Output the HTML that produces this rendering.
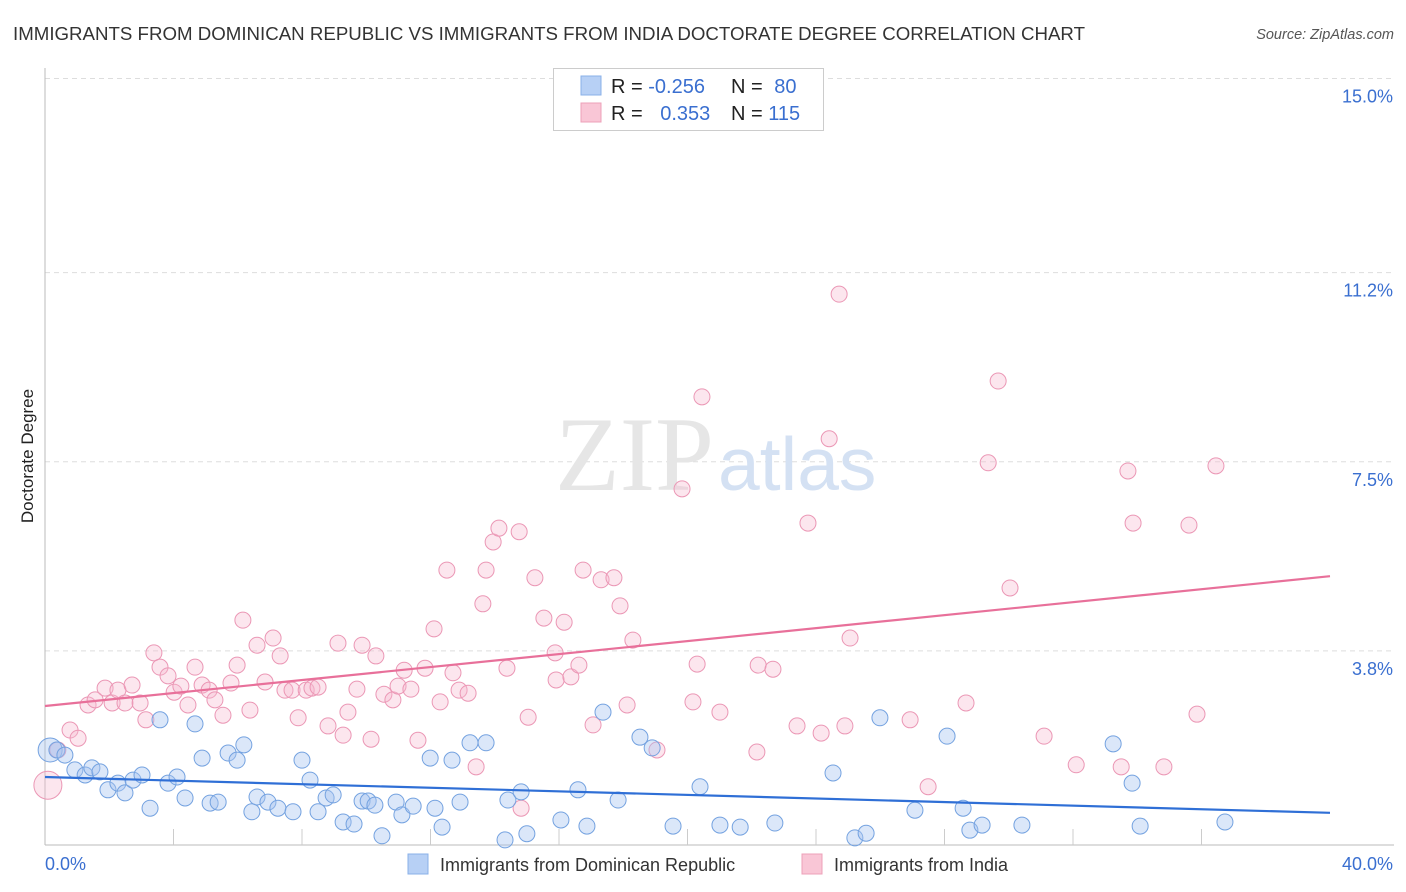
<!DOCTYPE html>
<html><head><meta charset="utf-8">
<style>
body{margin:0;background:#fff;font-family:"Liberation Sans",sans-serif;}
#wrap{position:relative;width:1406px;height:892px;overflow:hidden;}
</style></head>
<body>
<div id="wrap">
<svg id="svg" width="1406" height="892" xmlns="http://www.w3.org/2000/svg">
<text x="13" y="40" font-size="18.6" fill="#333" textLength="1072" lengthAdjust="spacingAndGlyphs">IMMIGRANTS FROM DOMINICAN REPUBLIC VS IMMIGRANTS FROM INDIA DOCTORATE DEGREE CORRELATION CHART</text>
<text x="1394" y="39" font-size="14.5" fill="#555" font-style="italic" text-anchor="end">Source: ZipAtlas.com</text>
<text x="0" y="0" transform="translate(33,456) rotate(-90)" font-size="17" fill="#222" text-anchor="middle">Doctorate Degree</text>
<g id="grid"></g>
<text x="555" y="490" font-family="Liberation Serif,serif" font-size="106" fill="#e6e6e6">ZIP</text>
<text x="718" y="490" font-size="75" fill="#d4e1f3">atlas</text>
<g id="pts"></g>
<g id="lines"></g>
<g>
<rect x="553.5" y="68.5" width="270" height="62" fill="#fff" stroke="#ccc"/>
<rect x="581" y="76" width="20" height="19" fill="#b7d0f5" stroke="#8ab0e8"/>
<rect x="581" y="103" width="20" height="19" fill="#f9c6d6" stroke="#eda0b8"/>
<text x="611" y="93" font-size="20" fill="#222">R = <tspan fill="#3a6fd0">-0.256</tspan></text>
<text x="731" y="93" font-size="20" fill="#222">N = <tspan fill="#3a6fd0" dx="6">80</tspan></text>
<text x="611" y="120" font-size="20" fill="#222">R = <tspan fill="#3a6fd0" dx="12">0.353</tspan></text>
<text x="731" y="120" font-size="20" fill="#222">N = <tspan fill="#3a6fd0">115</tspan></text>
</g>
<g>
<rect x="408" y="854" width="20" height="20" fill="#b7d0f5" stroke="#8ab0e8"/>
<text x="440" y="871" font-size="18" fill="#333">Immigrants from Dominican Republic</text>
<rect x="802" y="854" width="20" height="20" fill="#f9c6d6" stroke="#eda0b8"/>
<text x="834" y="871" font-size="18" fill="#333">Immigrants from India</text>
</g>
</svg>
</div>
<script>
const yTicks=[3.8,7.5,11.2,15.0];
const yTickLabels=["3.8%","7.5%","11.2%","15.0%"];
const xTickLabels=["0.0%","40.0%"];
const blueX=[0.16,0.37,0.62,0.93,1.25,1.46,1.71,1.96,2.27,2.49,2.74,3.02,3.27,3.58,3.83,4.11,4.36,4.67,4.89,5.14,5.39,5.70,5.98,6.19,6.44,6.60,6.94,7.25,7.72,8.00,8.25,8.50,8.75,8.97,9.28,9.62,9.87,10.06,10.27,10.49,10.93,11.11,11.46,11.99,12.14,12.36,12.67,12.92,13.23,13.73,14.32,14.41,14.82,15.00,16.06,16.59,16.87,17.37,17.84,18.52,18.90,19.55,20.39,21.01,21.64,22.72,24.53,25.21,25.56,25.99,27.08,28.08,28.58,28.79,29.17,30.41,33.25,33.84,34.09,36.73];
const blueY=[1.86,1.86,1.76,1.47,1.37,1.51,1.43,1.08,1.21,1.02,1.27,1.37,0.72,2.45,1.21,1.33,0.92,2.37,1.70,0.82,0.84,1.80,1.66,1.96,0.65,0.94,0.84,0.72,0.65,1.66,1.27,0.65,0.92,0.98,0.45,0.41,0.86,0.86,0.78,0.18,0.84,0.59,0.76,1.70,0.72,0.35,1.66,0.84,2.00,2.00,0.10,0.88,1.04,0.22,0.49,1.08,0.37,2.60,0.88,2.11,1.90,0.37,1.14,0.39,0.35,0.43,1.41,0.14,0.23,2.49,0.68,2.13,0.72,0.29,0.39,0.39,1.98,1.21,0.37,0.45];
const pinkX=[0.09,0.40,0.78,1.03,1.34,1.56,1.87,2.09,2.27,2.49,2.71,2.96,3.14,3.39,3.58,3.83,4.02,4.23,4.45,4.67,4.89,5.11,5.29,5.54,5.79,5.98,6.16,6.38,6.60,6.85,7.10,7.32,7.47,7.69,7.88,8.13,8.31,8.50,8.81,9.12,9.28,9.43,9.71,9.87,10.15,10.30,10.55,10.83,10.99,11.18,11.39,11.61,11.83,12.11,12.30,12.51,12.70,12.89,13.17,13.42,13.63,13.73,13.95,14.13,14.38,14.76,14.82,15.04,15.25,15.53,15.88,15.91,16.16,16.37,16.62,16.75,17.06,17.31,17.71,17.90,18.12,18.30,19.05,19.83,20.17,20.30,20.45,21.01,22.16,22.20,22.66,23.41,23.75,24.16,24.41,24.72,24.90,25.06,26.93,27.49,28.67,29.36,29.67,30.04,31.10,32.10,33.50,33.71,33.87,34.83,35.61,35.86,36.45];
const pinkY=[1.17,1.86,2.25,2.09,2.74,2.84,3.07,2.78,3.03,2.78,3.13,2.78,2.45,3.76,3.48,3.31,2.99,3.11,2.74,3.48,3.13,3.03,2.84,2.54,3.17,3.52,4.40,2.64,3.91,3.19,4.05,3.70,3.03,3.03,2.49,3.03,3.07,3.09,2.33,3.95,2.15,2.60,3.05,3.91,2.07,3.70,2.95,2.84,3.11,3.42,3.05,2.05,3.46,4.23,2.80,5.38,3.37,3.03,2.97,1.53,4.72,5.38,5.93,6.20,3.46,6.13,0.72,2.50,5.23,4.44,3.76,3.23,4.36,3.29,3.52,5.38,2.35,5.19,5.23,4.68,2.74,4.01,1.86,6.97,2.80,3.54,8.77,2.60,1.82,3.52,3.44,2.33,6.30,2.19,7.95,10.78,2.33,4.05,2.45,1.14,2.78,7.48,9.08,5.03,2.13,1.57,1.53,7.32,6.30,1.53,6.26,2.56,7.42];
const blueTrend=[1.33,0.63];
const pinkTrend=[2.72,5.26];
const NS="http://www.w3.org/2000/svg";
const X0=45,X1=1330,Y0=845,PX_PER=51.1;
function sx(v){return X0+(X1-X0)*v/40;}
function sy(v){return Y0-v*PX_PER;}
function mk(tag,attrs,parent){const e=document.createElementNS(NS,tag);for(const k in attrs)e.setAttribute(k,attrs[k]);parent.appendChild(e);return e;}
const grid=document.getElementById('grid');
yTicks.forEach((t,i)=>{
  const l=mk('line',{x1:X0,x2:1394,y1:sy(t),y2:sy(t),stroke:'#ddd','stroke-dasharray':'5,4'},grid);
  
  
  const tx=mk('text',{x:1393,y:sy(t)+24,'font-size':18,fill:'#3a6fd0','text-anchor':'end'},grid);
  tx.textContent=yTickLabels[i];
  
  
});
const ax=mk('line',{x1:X0,x2:X0,y1:68,y2:Y0,stroke:'#bbb'},grid);


const bx=mk('line',{x1:X0,x2:1394,y1:Y0,y2:Y0,stroke:'#bbb'},grid);


for(let k=1;k<10;k++){
  const tk=mk('line',{x1:sx(k*4),x2:sx(k*4),y1:Y0,y2:Y0-16,stroke:'#ccc'},grid);
  
  
}
const xl=mk('text',{x:45,y:870,'font-size':18,fill:'#3a6fd0'},grid);xl.textContent=xTickLabels[0];


const xr=mk('text',{x:1393,y:870,'font-size':18,fill:'#3a6fd0','text-anchor':'end'},grid);xr.textContent=xTickLabels[1];


const pts=document.getElementById('pts');
pinkX.forEach((x,i)=>{
  const c=mk('circle',{cx:sx(x),cy:sy(pinkY[i]),r:i===0?14:8,fill:'rgba(246,182,205,0.35)',stroke:'#eb97b5','stroke-width':1},pts);
  
  
});
blueX.forEach((x,i)=>{
  const c=mk('circle',{cx:sx(x),cy:sy(blueY[i]),r:i===0?12:8,fill:'rgba(165,195,240,0.4)',stroke:'#74a2e0','stroke-width':1},pts);
  
  
});
const lines=document.getElementById('lines');
const bl=mk('line',{x1:sx(0),y1:sy(blueTrend[0]),x2:sx(40),y2:sy(blueTrend[1]),stroke:'#2f6fd6','stroke-width':2.2},lines);


const pl=mk('line',{x1:sx(0),y1:sy(pinkTrend[0]),x2:sx(40),y2:sy(pinkTrend[1]),stroke:'#e8709a','stroke-width':2.2},lines);


</script>
</body></html>
